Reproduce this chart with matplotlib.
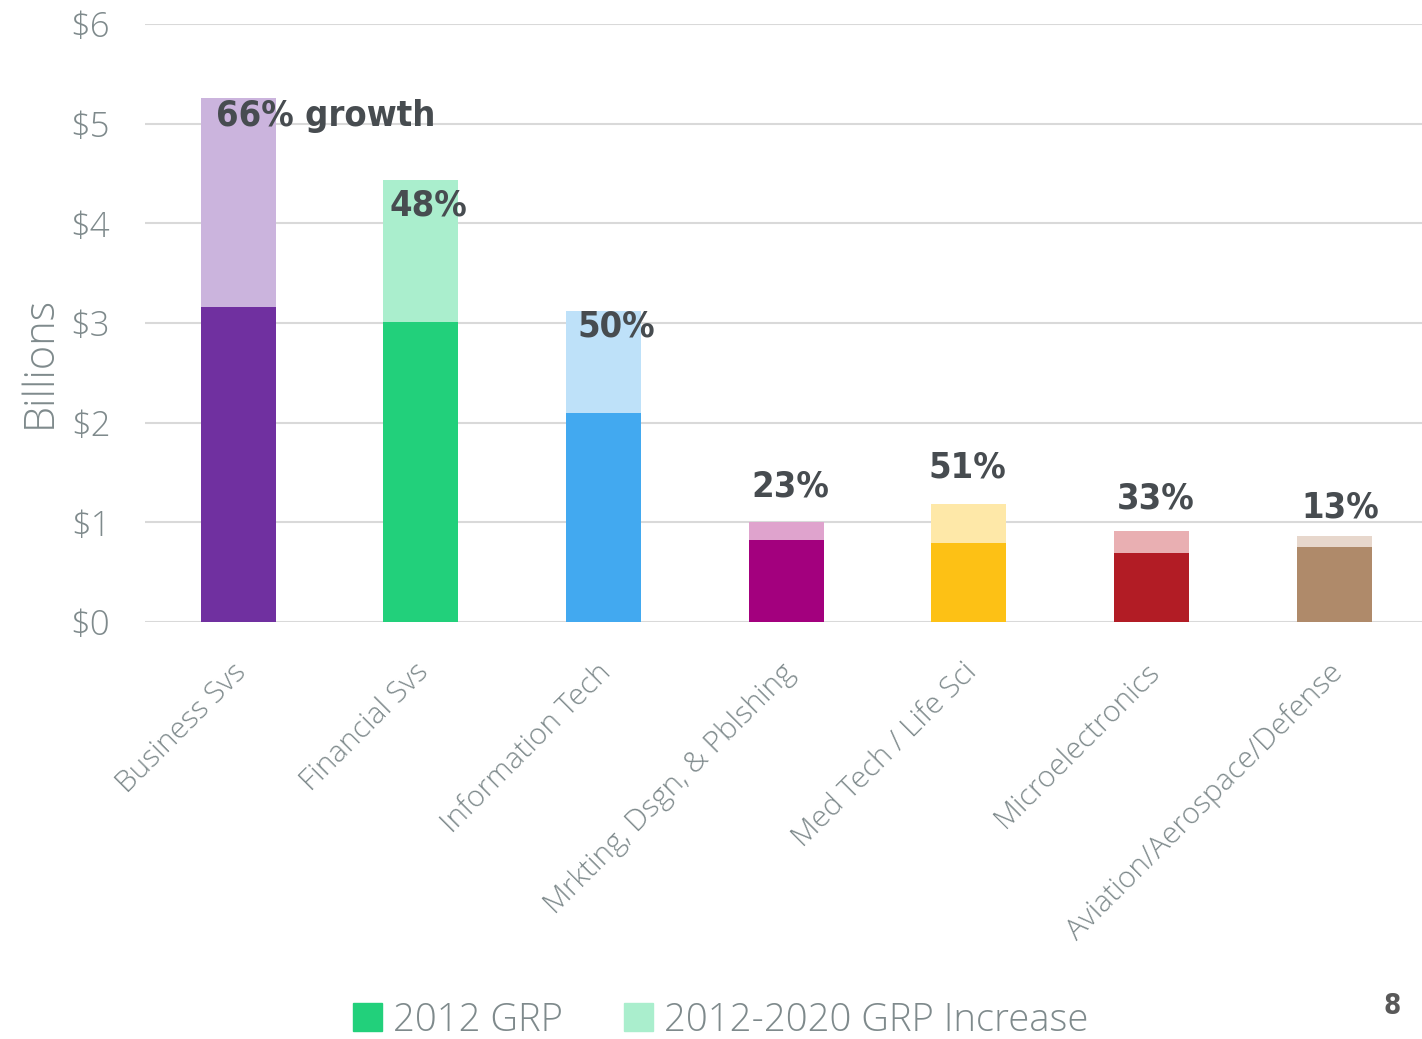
import matplotlib
matplotlib.use("Agg")
import matplotlib.pyplot as plt
from matplotlib.patches import Patch
from matplotlib.transforms import ScaledTranslation
from matplotlib import font_manager

categories = ["Business Svs", "Financial Svs", "Information Tech", "Mrkting, Dsgn, & Pblshing",
              "Med Tech / Life Sci", "Microelectronics", "Aviation/Aerospace/Defense"]
grp_2012 = [3.16, 3.01, 2.10, 0.82, 0.79, 0.69, 0.75]
grp_increase = [2.10, 1.42, 1.02, 0.18, 0.39, 0.22, 0.11]
growth_labels = ["66% growth", "48%", "50%", "23%", "51%", "33%", "13%"]
y_ticks = [0, 1, 2, 3, 4, 5, 6]
y_tick_labels = ["$0", "$1", "$2", "$3", "$4", "$5", "$6"]

base_colors = ["#7030A0", "#22D07B", "#42A9F0", "#A3007E", "#FDC115", "#B21C25", "#AF8A6A"]
light_colors = ["#CBB4DD", "#AAEECD", "#BEE1F9", "#DFA3CD", "#FEE8A8", "#E9AFB2", "#E7D7CC"]

label_y = [5.08, 4.18, 2.97, 1.36, 1.55, 1.24, 1.15]
label_dx = [-0.12, 0.04, 0.07, 0.02, -0.01, 0.02, 0.03]

names = {f.name for f in font_manager.fontManager.ttflist}
if "Liberation Sans Narrow" in names:
    cond_family = "Liberation Sans Narrow"
    cond_kw = {}
else:
    cond_family = "DejaVu Sans"
    cond_kw = {"fontstretch": "condensed"}

fig = plt.figure(figsize=(14.22, 10.39), dpi=100)
ax = fig.add_axes([0.102, 0.4013, 0.898, 0.5756])
x = list(range(len(categories)))
w = 0.41
ax.bar(x, grp_2012, width=w, color=base_colors, zorder=3)
ax.bar(x, grp_increase, width=w, bottom=grp_2012, color=light_colors, zorder=3)

ax.set_xlim(-0.51, 6.48)
ax.set_ylim(0, 6)
ax.set_yticks(y_ticks)
ax.set_yticklabels(y_tick_labels, fontsize=25, color="#7F8A8C", family="Open Sans", fontweight="light")
ax.yaxis.grid(True, color="#D9D9D9", linewidth=1.5, zorder=0)
ax.set_axisbelow(True)
for s in ax.spines.values():
    s.set_visible(False)
ax.tick_params(axis="y", length=0, pad=25)
ax.tick_params(axis="x", length=0, pad=4)
ax.set_xticks(x)
ax.set_xticklabels(categories, rotation=45, ha="right", rotation_mode="anchor",
                   fontsize=21.5, color="#7F8A8C", family="Open Sans", fontweight="light")
for lbl in ax.get_xticklabels():
    lbl.set_transform(lbl.get_transform() + ScaledTranslation(-0.07, -0.3, fig.dpi_scale_trans))

for i, (t, yy, dx) in enumerate(zip(growth_labels, label_y, label_dx)):
    ha = "left" if i == 0 else "center"
    ax.text(i + dx, yy, t, ha=ha, va="center", fontsize=26, fontweight="bold",
            family=cond_family, color="#474C50", zorder=5, **cond_kw)

fig.text(0.028, 0.652, "Billions", rotation=90, ha="center", va="center",
         fontsize=30, color="#7F8A8C", family="Open Sans", fontweight="light")

handles = [Patch(color=base_colors[1]), Patch(color=light_colors[1])]
leg = fig.legend(handles, ["2012 GRP", "2012-2020 GRP Increase"], loc="center",
                 bbox_to_anchor=(0.507, 0.018), ncol=2, frameon=False,
                 handlelength=0.75, handleheight=0.75, handletextpad=0.3, columnspacing=1.6,
                 prop={"family": "Open Sans", "weight": "light", "size": 27.5})
for t in leg.get_texts():
    t.set_color("#7F8A8C")

fig.text(0.979, 0.032, "8", ha="center", va="center", fontsize=20, fontweight="bold",
         color="#595959", family=cond_family, **cond_kw)

fig.savefig("out.png", dpi=100)
